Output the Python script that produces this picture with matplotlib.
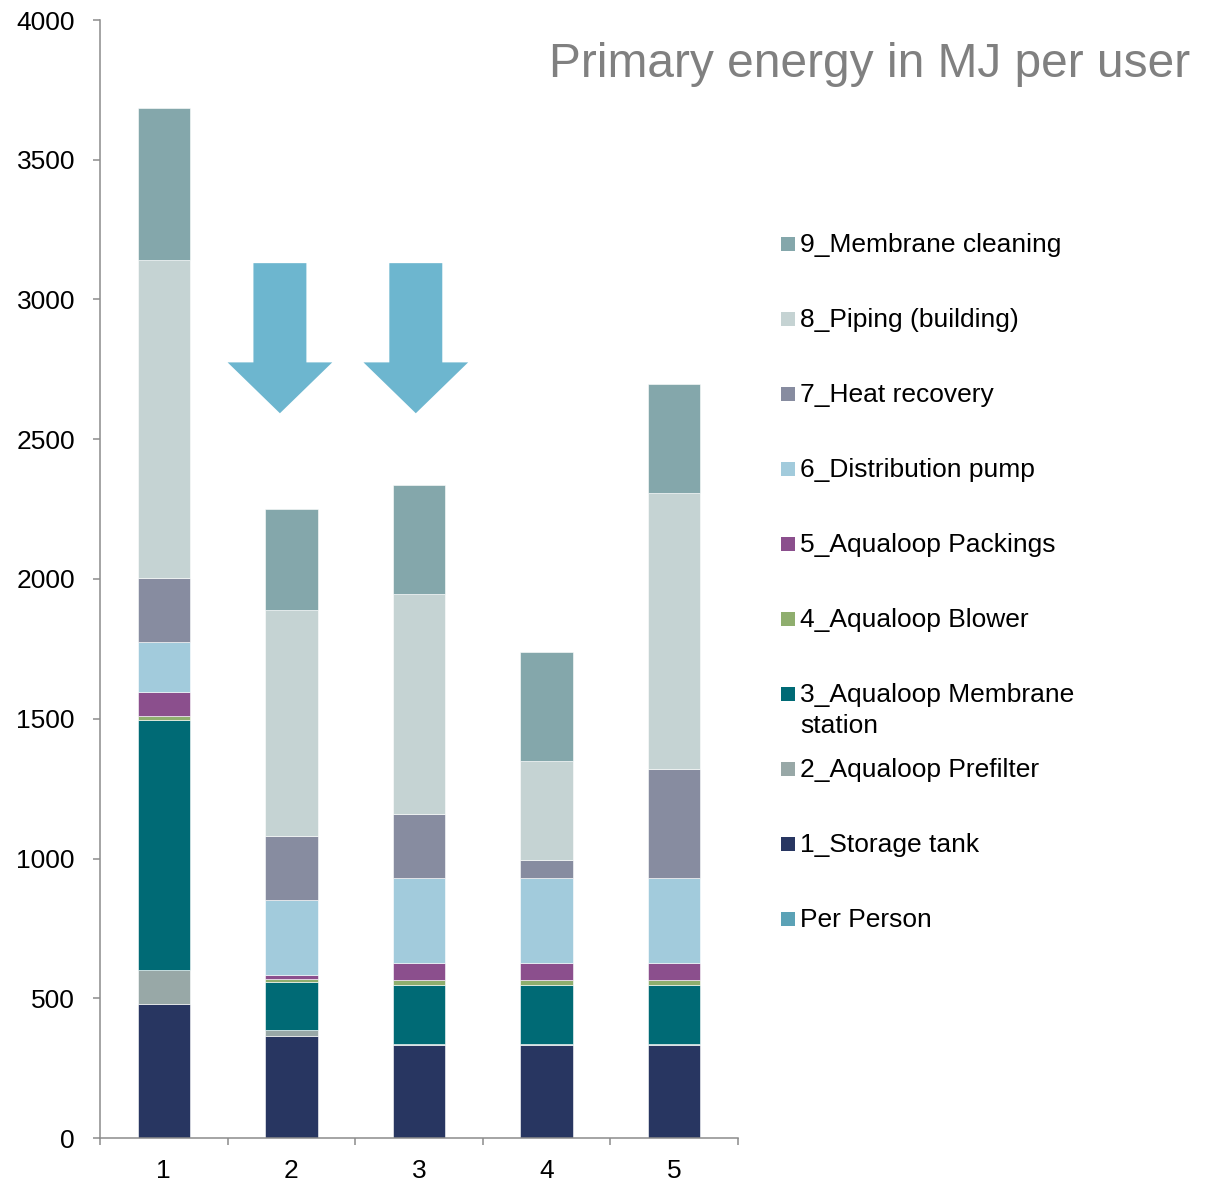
import matplotlib.pyplot as plt
import matplotlib.patches as mpatches
import numpy as np

plt.rcParams["font.family"] = ["Liberation Sans", "DejaVu Sans"]

# data (MJ per user)
scenarios = ["1", "2", "3", "4", "5"]
series_names = [
    "1_Storage tank",
    "2_Aqualoop Prefilter",
    "3_Aqualoop Membrane\nstation",
    "4_Aqualoop Blower",
    "5_Aqualoop Packings",
    "6_Distribution pump",
    "7_Heat recovery",
    "8_Piping (building)",
    "9_Membrane cleaning",
]
storage_tank = [479, 365, 333, 333, 333]
prefilter = [122, 21, 3, 3, 3]
membrane_station = [894, 172, 211, 211, 211]
blower = [15, 11, 18, 18, 18]
packings = [86, 14, 61, 61, 61]
distribution_pump = [179, 269, 304, 304, 304]
heat_recovery = [229, 228, 229, 65, 390]
piping = [1137, 809, 787, 354, 988]
membrane_cleaning = [544, 361, 390, 390, 390]
per_person_label = "Per Person"

# arrows marking scenarios 2 and 3 (x centre, top, tip in data units)
arrow_x = [1.91, 2.975]
arrow_top = 3130
arrow_tip = 2593

colors = [
    "#283661", "#98a8a7", "#006a75", "#8fae6e", "#8b4f8d",
    "#a2cbdc", "#878ca0", "#c5d3d3", "#84a7ab",
]
per_person_color = "#5ba2b6"
arrow_color = "#6db6cf"
spine_color = "#8c8c8c"

series = [storage_tank, prefilter, membrane_station, blower, packings,
          distribution_pump, heat_recovery, piping, membrane_cleaning]

fig = plt.figure(figsize=(12.12, 11.82), dpi=100)
ax = fig.add_axes([100 / 1212, 44 / 1182, 638 / 1212, 1118 / 1182])

x = np.arange(1, len(scenarios) + 1)
bottom = np.zeros(len(scenarios))
for values, color in zip(series, colors):
    ax.bar(x, values, width=0.41, bottom=bottom, color=color,
           edgecolor="white", linewidth=0.4)
    bottom += np.array(values)

for ax_x in arrow_x:
    ax.add_patch(mpatches.FancyArrow(
        ax_x, arrow_top, 0, arrow_tip - arrow_top,
        width=0.415, head_width=0.82, head_length=182,
        length_includes_head=True, color=arrow_color, linewidth=0,
    ))

ax.set_xlim(0.5, 5.5)
ax.set_ylim(0, 4000)
ax.set_yticks(range(0, 4001, 500))
ax.set_xticks(x)
ax.set_xticklabels(scenarios)
ax.set_xticks(np.arange(0.5, 5.6, 1.0), minor=True)
ax.tick_params(axis="x", which="major", length=0, pad=15, labelsize=19)
ax.tick_params(axis="x", which="minor", length=5, width=1.1, color=spine_color)
ax.tick_params(axis="y", length=5, width=1.1, color=spine_color, pad=13, labelsize=19)
for side in ("top", "right"):
    ax.spines[side].set_visible(False)
for side in ("left", "bottom"):
    ax.spines[side].set_color(spine_color)
    ax.spines[side].set_linewidth(1.1)

fig.text(1190 / 1212, (1182 - 77) / 1182, "Primary energy in MJ per user",
         ha="right", va="baseline", fontsize=34.5, color="#808080")

# legend, drawn by hand so entries keep a fixed pitch like the original
legend_names = series_names[::-1] + [per_person_label]
legend_colors = colors[::-1] + [per_person_color]
for i, (name, color) in enumerate(zip(legend_names, legend_colors)):
    y_px = 244 + 75 * i
    y_fig = (1182 - y_px) / 1182
    fig.patches.append(mpatches.Rectangle(
        (781 / 1212, y_fig - 7 / 1182), 14 / 1212, 14 / 1182,
        transform=fig.transFigure, facecolor=color, edgecolor="none",
    ))
    fig.text(800 / 1212, y_fig + 11 / 1182, name, ha="left", va="top",
             fontsize=19, color="black", linespacing=1.35)

fig.savefig("out.png", dpi=100)
